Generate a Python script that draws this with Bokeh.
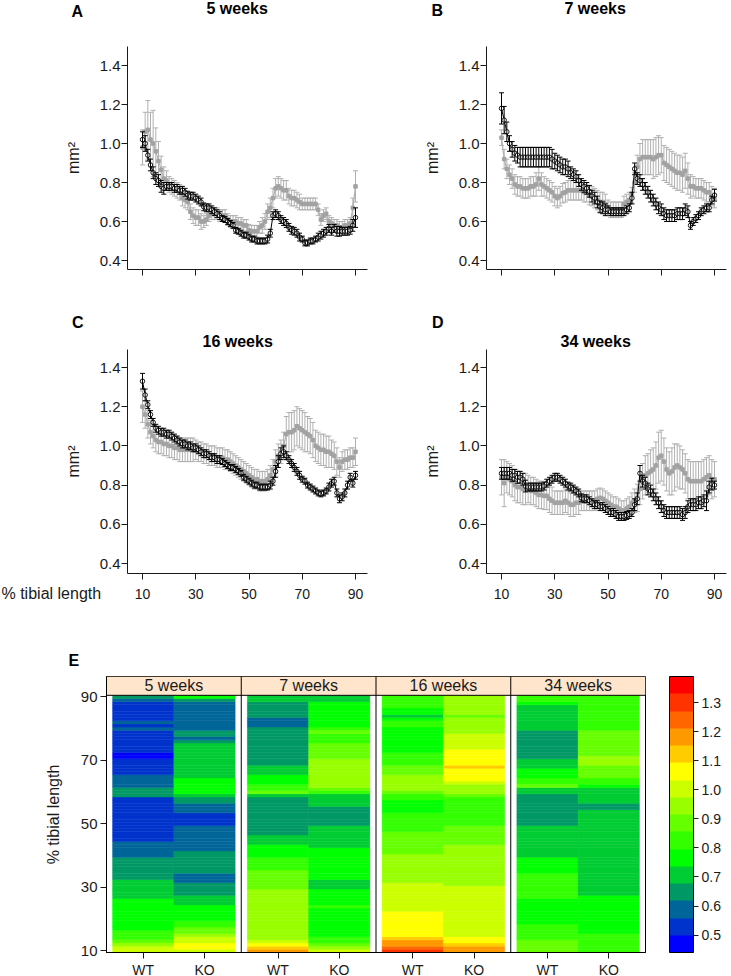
from bokeh.plotting import figure
from bokeh.layouts import column, row
from bokeh.models import (ColumnDataSource, Whisker, TeeHead, FixedTicker, Title,
                          Range1d, LinearColorMapper, ColorBar, Span, PrintfTickFormatter)
from bokeh.core.properties import value
from bokeh.embed import file_html
from bokeh.resources import INLINE

# ---------------- data ----------------
pct = list(range(10, 91))
ages = ["5 weeks", "7 weeks", "16 weeks", "34 weeks"]
panel_letters = ["A", "B", "C", "D"]
x_ticks = [10, 30, 50, 70, 90]
y_ticks = [0.4, 0.6, 0.8, 1.0, 1.2, 1.4]
genotypes = ["WT", "KO"]
heat_y_ticks = [10, 30, 50, 70, 90]
cb_ticks = [0.5, 0.6, 0.7, 0.8, 0.9, 1.0, 1.1, 1.2, 1.3]
cb_low, cb_high = 0.44, 1.39
palette16 = ["#0000FF", "#0033CC", "#006699", "#009966", "#00CC33", "#00FF00",
             "#33FF00", "#66FF00", "#99FF00", "#CCFF00", "#FFFF00", "#FFCC00",
             "#FF9900", "#FF6600", "#FF3300", "#FF0000"]

wt_5wk = [1.02, 1.00, 0.94, 0.89, 0.85, 0.82, 0.81, 0.78, 0.77, 0.78,
          0.78, 0.78, 0.77, 0.77, 0.76, 0.76, 0.75, 0.735, 0.73, 0.73,
          0.72, 0.71, 0.70, 0.675, 0.67, 0.67, 0.66, 0.65, 0.64, 0.63,
          0.615, 0.61, 0.60, 0.59, 0.58, 0.555, 0.55, 0.54, 0.53, 0.53,
          0.52, 0.51, 0.51, 0.50, 0.50, 0.50, 0.50, 0.51, 0.54, 0.63,
          0.64, 0.63, 0.61, 0.60, 0.59, 0.57, 0.555, 0.55, 0.54, 0.52,
          0.51, 0.49, 0.49, 0.50, 0.50, 0.51, 0.52, 0.53, 0.54, 0.55,
          0.565, 0.55, 0.565, 0.55, 0.55, 0.55, 0.55, 0.55, 0.555, 0.58,
          0.62]
wt_5wk_se = [0.04, 0.04, 0.03, 0.03, 0.03, 0.03, 0.03, 0.03, 0.03, 0.02,
             0.02, 0.02, 0.02, 0.02, 0.02, 0.02, 0.02, 0.02, 0.02, 0.02,
             0.02, 0.02, 0.02, 0.02, 0.02, 0.02, 0.02, 0.02, 0.02, 0.02,
             0.015, 0.015, 0.015, 0.015, 0.015, 0.015, 0.015, 0.015, 0.015, 0.015,
             0.015, 0.015, 0.015, 0.015, 0.015, 0.015, 0.015, 0.02, 0.02, 0.02,
             0.02, 0.02, 0.02, 0.02, 0.02, 0.02, 0.02, 0.02, 0.02, 0.02,
             0.015, 0.015, 0.015, 0.015, 0.015, 0.015, 0.02, 0.02, 0.02, 0.02,
             0.02, 0.02, 0.02, 0.025, 0.025, 0.02, 0.02, 0.02, 0.02, 0.03,
             0.05]
ko_5wk = [0.98, 1.06, 1.07, 1.02, 1.00, 0.96, 0.91, 0.865, 0.82, 0.81,
          0.79, 0.78, 0.77, 0.76, 0.75, 0.72, 0.71, 0.70, 0.65, 0.63,
          0.62, 0.62, 0.60, 0.60, 0.61, 0.63, 0.64, 0.64, 0.64, 0.63,
          0.63, 0.63, 0.61, 0.60, 0.60, 0.60, 0.59, 0.59, 0.58, 0.58,
          0.555, 0.55, 0.55, 0.55, 0.57, 0.58, 0.60, 0.65, 0.67, 0.72,
          0.77, 0.78, 0.77, 0.76, 0.76, 0.73, 0.72, 0.72, 0.71, 0.70,
          0.69, 0.69, 0.69, 0.69, 0.69, 0.69, 0.66, 0.61, 0.63, 0.64,
          0.60, 0.59, 0.58, 0.58, 0.57, 0.57, 0.58, 0.58, 0.59, 0.67,
          0.78]
ko_5wk_se = [0.09, 0.10, 0.15, 0.14, 0.17, 0.12, 0.10, 0.07, 0.06, 0.05,
             0.04, 0.04, 0.04, 0.04, 0.04, 0.04, 0.04, 0.04, 0.04, 0.04,
             0.04, 0.04, 0.04, 0.03, 0.03, 0.03, 0.03, 0.03, 0.03, 0.03,
             0.03, 0.03, 0.03, 0.03, 0.03, 0.03, 0.03, 0.03, 0.03, 0.03,
             0.03, 0.03, 0.03, 0.03, 0.03, 0.04, 0.04, 0.04, 0.05, 0.05,
             0.05, 0.05, 0.05, 0.05, 0.05, 0.04, 0.04, 0.04, 0.04, 0.04,
             0.03, 0.03, 0.03, 0.03, 0.03, 0.03, 0.03, 0.03, 0.03, 0.03,
             0.03, 0.03, 0.03, 0.03, 0.03, 0.03, 0.03, 0.03, 0.03, 0.05,
             0.08]

wt_7wk = [1.18, 1.12, 1.06, 1.00, 0.97, 0.95, 0.94, 0.93, 0.93, 0.93,
          0.93, 0.93, 0.93, 0.93, 0.93, 0.93, 0.93, 0.93, 0.93, 0.92,
          0.91, 0.90, 0.89, 0.88, 0.88, 0.87, 0.85, 0.84, 0.83, 0.81,
          0.79, 0.78, 0.77, 0.755, 0.73, 0.72, 0.70, 0.675, 0.67, 0.66,
          0.66, 0.65, 0.65, 0.65, 0.65, 0.65, 0.65, 0.66, 0.67, 0.72,
          0.87, 0.82, 0.81, 0.79, 0.77, 0.75, 0.73, 0.71, 0.69, 0.67,
          0.66, 0.64, 0.63, 0.63, 0.63, 0.63, 0.64, 0.64, 0.64, 0.66,
          0.65, 0.58, 0.60, 0.615, 0.63, 0.65, 0.66, 0.67, 0.67, 0.71,
          0.735]
wt_7wk_se = [0.08, 0.07, 0.05, 0.04, 0.04, 0.04, 0.04, 0.05, 0.05, 0.05,
             0.05, 0.05, 0.05, 0.05, 0.05, 0.05, 0.05, 0.05, 0.05, 0.05,
             0.04, 0.04, 0.04, 0.04, 0.04, 0.04, 0.03, 0.03, 0.03, 0.03,
             0.03, 0.03, 0.03, 0.03, 0.03, 0.03, 0.03, 0.03, 0.03, 0.03,
             0.02, 0.02, 0.02, 0.02, 0.02, 0.02, 0.02, 0.02, 0.02, 0.03,
             0.03, 0.03, 0.03, 0.03, 0.03, 0.03, 0.03, 0.03, 0.03, 0.03,
             0.03, 0.03, 0.03, 0.03, 0.03, 0.03, 0.03, 0.03, 0.03, 0.03,
             0.03, 0.02, 0.02, 0.02, 0.02, 0.02, 0.02, 0.02, 0.02, 0.02,
             0.03]
ko_7wk = [1.03, 0.92, 0.87, 0.84, 0.82, 0.79, 0.78, 0.78, 0.77, 0.77,
          0.77, 0.78, 0.78, 0.79, 0.82, 0.79, 0.78, 0.77, 0.76, 0.75,
          0.73, 0.72, 0.73, 0.745, 0.75, 0.76, 0.76, 0.76, 0.76, 0.76,
          0.76, 0.75, 0.75, 0.735, 0.73, 0.72, 0.71, 0.70, 0.70, 0.69,
          0.67, 0.66, 0.66, 0.66, 0.66, 0.66, 0.69, 0.70, 0.71, 0.735,
          0.80, 0.88, 0.92, 0.93, 0.93, 0.93, 0.93, 0.92, 0.93, 0.94,
          0.94, 0.90, 0.89, 0.88, 0.87, 0.86, 0.85, 0.85, 0.84, 0.86,
          0.82, 0.78, 0.78, 0.77, 0.77, 0.77, 0.76, 0.75, 0.75, 0.73,
          0.72]
ko_7wk_se = [0.04, 0.05, 0.05, 0.05, 0.05, 0.05, 0.05, 0.05, 0.05, 0.05,
             0.05, 0.05, 0.05, 0.06, 0.06, 0.06, 0.05, 0.05, 0.05, 0.05,
             0.05, 0.05, 0.05, 0.05, 0.05, 0.05, 0.05, 0.05, 0.05, 0.05,
             0.05, 0.05, 0.05, 0.05, 0.05, 0.05, 0.05, 0.05, 0.05, 0.05,
             0.04, 0.04, 0.04, 0.04, 0.04, 0.04, 0.04, 0.04, 0.04, 0.04,
             0.05, 0.06, 0.08, 0.09, 0.09, 0.09, 0.09, 0.10, 0.10, 0.10,
             0.09, 0.09, 0.09, 0.09, 0.09, 0.09, 0.09, 0.09, 0.09, 0.09,
             0.08, 0.06, 0.05, 0.05, 0.05, 0.05, 0.05, 0.05, 0.05, 0.05,
             0.05]

wt_16wk = [1.33, 1.26, 1.21, 1.16, 1.12, 1.09, 1.08, 1.07, 1.07, 1.06,
           1.06, 1.05, 1.04, 1.03, 1.02, 1.01, 1.01, 1.00, 1.00, 0.99,
           0.99, 0.98, 0.97, 0.96, 0.96, 0.95, 0.94, 0.94, 0.93, 0.93,
           0.92, 0.91, 0.90, 0.89, 0.89, 0.88, 0.87, 0.86, 0.84, 0.83,
           0.82, 0.81, 0.80, 0.80, 0.79, 0.79, 0.79, 0.79, 0.80, 0.82,
           0.87, 0.92, 0.96, 0.97, 0.95, 0.93, 0.91, 0.89, 0.87, 0.85,
           0.83, 0.82, 0.80, 0.79, 0.78, 0.77, 0.76, 0.755, 0.76, 0.77,
           0.79, 0.81, 0.82, 0.76, 0.73, 0.74, 0.76, 0.80, 0.84, 0.81,
           0.85]
wt_16wk_se = [0.04, 0.03, 0.02, 0.02, 0.02, 0.02, 0.02, 0.02, 0.02, 0.02,
              0.02, 0.02, 0.02, 0.02, 0.02, 0.02, 0.02, 0.02, 0.02, 0.02,
              0.02, 0.02, 0.02, 0.02, 0.02, 0.02, 0.02, 0.02, 0.02, 0.02,
              0.015, 0.015, 0.015, 0.015, 0.015, 0.015, 0.015, 0.015, 0.015, 0.015,
              0.015, 0.015, 0.015, 0.015, 0.015, 0.015, 0.015, 0.015, 0.02, 0.02,
              0.03, 0.03, 0.03, 0.03, 0.02, 0.02, 0.02, 0.02, 0.02, 0.02,
              0.015, 0.015, 0.015, 0.015, 0.015, 0.015, 0.015, 0.015, 0.015, 0.015,
              0.02, 0.02, 0.02, 0.02, 0.02, 0.02, 0.02, 0.02, 0.02, 0.02,
              0.02]
ko_16wk = [1.20, 1.16, 1.11, 1.07, 1.05, 1.03, 1.02, 1.02, 1.01, 1.01,
           1.00, 1.00, 0.99, 0.99, 0.98, 0.98, 0.98, 0.98, 0.98, 0.98,
           0.98, 0.97, 0.97, 0.96, 0.96, 0.95, 0.95, 0.95, 0.94, 0.94,
           0.94, 0.93, 0.93, 0.92, 0.91, 0.90, 0.89, 0.88, 0.87, 0.86,
           0.85, 0.84, 0.83, 0.83, 0.82, 0.82, 0.82, 0.83, 0.85, 0.88,
           0.92, 0.95, 0.97, 1.00, 1.06, 1.07, 1.07, 1.08, 1.10, 1.09,
           1.08, 1.07, 1.06, 1.05, 1.03, 1.00, 0.99, 0.98, 0.98, 0.97,
           0.97, 0.96, 0.95, 0.92, 0.89, 0.92, 0.93, 0.93, 0.94, 0.94,
           0.97]
ko_16wk_se = [0.08, 0.07, 0.07, 0.06, 0.06, 0.06, 0.06, 0.06, 0.06, 0.06,
              0.06, 0.06, 0.06, 0.06, 0.06, 0.06, 0.06, 0.06, 0.06, 0.06,
              0.05, 0.05, 0.05, 0.05, 0.05, 0.05, 0.05, 0.05, 0.05, 0.05,
              0.05, 0.05, 0.05, 0.05, 0.05, 0.05, 0.05, 0.05, 0.05, 0.05,
              0.05, 0.05, 0.05, 0.05, 0.05, 0.05, 0.05, 0.05, 0.05, 0.05,
              0.06, 0.06, 0.06, 0.07, 0.09, 0.10, 0.10, 0.10, 0.10, 0.10,
              0.10, 0.10, 0.09, 0.09, 0.09, 0.08, 0.08, 0.08, 0.08, 0.08,
              0.08, 0.07, 0.07, 0.07, 0.05, 0.05, 0.05, 0.05, 0.05, 0.05,
              0.07]

wt_34wk = [0.86, 0.86, 0.86, 0.86, 0.85, 0.85, 0.84, 0.84, 0.83, 0.795,
           0.79, 0.79, 0.79, 0.79, 0.79, 0.79, 0.795, 0.81, 0.82, 0.83,
           0.84, 0.84, 0.83, 0.82, 0.81, 0.795, 0.79, 0.78, 0.77, 0.76,
           0.735, 0.73, 0.73, 0.72, 0.71, 0.70, 0.70, 0.69, 0.69, 0.68,
           0.67, 0.66, 0.66, 0.65, 0.64, 0.64, 0.64, 0.645, 0.65, 0.66,
           0.70, 0.73, 0.86, 0.82, 0.81, 0.78, 0.77, 0.75, 0.73, 0.71,
           0.69, 0.67, 0.66, 0.66, 0.66, 0.66, 0.66, 0.66, 0.65, 0.66,
           0.69, 0.70, 0.70, 0.70, 0.71, 0.71, 0.72, 0.72, 0.79, 0.805,
           0.80]
wt_34wk_se = [0.03, 0.03, 0.03, 0.03, 0.03, 0.03, 0.03, 0.03, 0.03, 0.03,
              0.02, 0.02, 0.02, 0.02, 0.02, 0.02, 0.02, 0.02, 0.02, 0.02,
              0.02, 0.02, 0.02, 0.02, 0.02, 0.02, 0.02, 0.02, 0.02, 0.02,
              0.02, 0.02, 0.02, 0.02, 0.02, 0.02, 0.02, 0.02, 0.02, 0.02,
              0.02, 0.02, 0.02, 0.02, 0.02, 0.02, 0.02, 0.02, 0.02, 0.02,
              0.03, 0.03, 0.04, 0.03, 0.03, 0.03, 0.03, 0.03, 0.03, 0.03,
              0.03, 0.03, 0.03, 0.03, 0.03, 0.03, 0.03, 0.03, 0.03, 0.03,
              0.03, 0.03, 0.03, 0.03, 0.03, 0.03, 0.03, 0.05, 0.03, 0.03,
              0.02]
ko_34wk = [0.84, 0.81, 0.84, 0.83, 0.82, 0.80, 0.79, 0.79, 0.78, 0.78,
           0.78, 0.77, 0.77, 0.76, 0.75, 0.75, 0.745, 0.745, 0.73, 0.72,
           0.71, 0.71, 0.71, 0.71, 0.72, 0.71, 0.70, 0.70, 0.71, 0.71,
           0.72, 0.72, 0.72, 0.72, 0.72, 0.72, 0.73, 0.735, 0.73, 0.72,
           0.71, 0.70, 0.69, 0.69, 0.68, 0.67, 0.67, 0.68, 0.69, 0.71,
           0.72, 0.735, 0.78, 0.82, 0.85, 0.86, 0.87, 0.88, 0.90, 0.94,
           0.95, 0.92, 0.88, 0.86, 0.87, 0.89, 0.90, 0.89, 0.88, 0.86,
           0.83, 0.82, 0.82, 0.82, 0.82, 0.82, 0.83, 0.84, 0.85, 0.83,
           0.83]
ko_34wk_se = [0.09, 0.12, 0.08, 0.08, 0.08, 0.08, 0.08, 0.08, 0.08, 0.08,
              0.07, 0.07, 0.07, 0.07, 0.07, 0.07, 0.07, 0.07, 0.07, 0.07,
              0.06, 0.06, 0.06, 0.06, 0.06, 0.06, 0.06, 0.06, 0.06, 0.06,
              0.05, 0.05, 0.05, 0.05, 0.05, 0.05, 0.05, 0.05, 0.05, 0.05,
              0.05, 0.05, 0.05, 0.05, 0.05, 0.05, 0.05, 0.05, 0.05, 0.05,
              0.06, 0.07, 0.08, 0.09, 0.10, 0.10, 0.11, 0.11, 0.12, 0.13,
              0.13, 0.12, 0.11, 0.11, 0.12, 0.12, 0.11, 0.11, 0.10, 0.10,
              0.10, 0.10, 0.10, 0.10, 0.10, 0.10, 0.10, 0.10, 0.10, 0.10,
              0.09]

wt_all = [wt_5wk, wt_7wk, wt_16wk, wt_34wk]
wt_se_all = [wt_5wk_se, wt_7wk_se, wt_16wk_se, wt_34wk_se]
ko_all = [ko_5wk, ko_7wk, ko_16wk, ko_34wk]
ko_se_all = [ko_5wk_se, ko_7wk_se, ko_16wk_se, ko_34wk_se]
for arr in wt_all + wt_se_all + ko_all + ko_se_all:
    assert len(arr) == len(pct), len(arr)

# ---------------- style ----------------
FONT = "Liberation Sans"
TXT = "#1a1a1a"
GRAY = "#B0B0B0"
GRAY_PT = "#A2A2A2"
PXX = 2.6625   # px per % tibial length


def free_text(p, text, vx, vy, bold=True, size="16px"):
    """Text outside the frame: title of an invisible 1-px colour bar (not clipped)."""
    cb = ColorBar(color_mapper=LinearColorMapper(palette=["#FFFFFF"], low=0, high=1),
                  location=(vx, vy), orientation="horizontal", width=1, height=1,
                  padding=0, margin=0, scale_alpha=0,
                  bar_line_color=None, border_line_color=None, background_fill_color=None,
                  ticker=FixedTicker(ticks=[0.5]), major_label_overrides={0.5: ""},
                  major_label_text_font_size="1px", label_standoff=0,
                  major_tick_out=0, major_tick_in=0,
                  major_tick_line_color=None, minor_tick_line_color=None,
                  title=text, title_standoff=0, title_text_font=FONT,
                  title_text_font_size=size, title_text_align="left",
                  title_text_font_style="bold" if bold else "normal",
                  title_text_color="black" if bold else TXT)
    p.add_layout(cb)


def style_axes(p, show_x_labels):
    for ax in (p.xaxis[0], p.yaxis[0]):
        ax.axis_line_color = TXT
        ax.major_tick_line_color = TXT
        ax.major_tick_out = 6
        ax.major_tick_in = 0
        ax.minor_tick_line_color = None
        ax.major_label_text_font = FONT
        ax.major_label_text_color = TXT
        ax.axis_label_text_font = FONT
        ax.axis_label_text_font_size = "16px"
        ax.axis_label_text_font_style = "normal"
        ax.axis_label_text_color = TXT
    p.xaxis.major_label_text_font_size = "14px"
    p.yaxis.major_label_text_font_size = "15px"
    p.xaxis.ticker = FixedTicker(ticks=x_ticks)
    p.yaxis.ticker = FixedTicker(ticks=y_ticks)
    p.yaxis.formatter = PrintfTickFormatter(format="%.1f")
    p.yaxis.major_label_standoff = 1
    p.yaxis.axis_label = "mm\u00b2"
    p.yaxis.axis_label_standoff = 15
    p.xaxis.major_label_standoff = 9
    if not show_x_labels:
        p.xaxis.major_label_text_color = None


def line_panel(i, bl, fw, br, bt, fh, bb, ytop, pxy, show_x):
    x0 = 10 - 15 / PXX
    x1 = x0 + fw / PXX
    y1 = ytop
    y0 = ytop - fh / pxy
    p = figure(frame_width=fw, frame_height=fh,
               min_border_left=bl, min_border_right=br,
               min_border_top=bt, min_border_bottom=bb,
               x_range=Range1d(x0, x1), y_range=Range1d(y0, y1),
               output_backend="svg", toolbar_location=None)
    p.outline_line_color = None
    p.xgrid.visible = False
    p.ygrid.visible = False
    style_axes(p, show_x)

    wt, wse = wt_all[i], wt_se_all[i]
    ko, kse = ko_all[i], ko_se_all[i]
    src = ColumnDataSource(dict(
        x=pct, wt=wt, ko=ko,
        wt_lo=[v - e for v, e in zip(wt, wse)], wt_hi=[v + e for v, e in zip(wt, wse)],
        ko_lo=[v - e for v, e in zip(ko, kse)], ko_hi=[v + e for v, e in zip(ko, kse)],
    ))
    # KO (grey)
    p.add_layout(Whisker(base="x", upper="ko_hi", lower="ko_lo", source=src,
                         line_color=GRAY, line_width=1, level="underlay",
                         upper_head=TeeHead(size=5, line_color=GRAY, line_width=1),
                         lower_head=TeeHead(size=5, line_color=GRAY, line_width=1)))
    p.line("x", "ko", source=src, line_color=GRAY, line_width=1.2)
    p.scatter("x", "ko", source=src, marker="square", size=3.5,
              fill_color=GRAY_PT, line_color=GRAY_PT)
    # WT (black)
    p.add_layout(Whisker(base="x", upper="wt_hi", lower="wt_lo", source=src,
                         line_color="black", line_width=1, level="glyph",
                         upper_head=TeeHead(size=5, line_color="black", line_width=1),
                         lower_head=TeeHead(size=5, line_color="black", line_width=1)))
    p.line("x", "wt", source=src, line_color="black", line_width=1)
    p.scatter("x", "wt", source=src, marker="circle", size=4.5,
              fill_color="white", line_color="black", line_width=0.9)
    return p


def bold_title(text, offset, standoff=0):
    return Title(text=text, align="left", offset=offset, standoff=standoff,
                 text_font=FONT, text_font_size="16px", text_font_style="bold",
                 text_color="black")


# geometry in page pixels: frames of A/B at y 46..269, C/D at 349..573
pA = line_panel(0, 127, 240, 3, 46, 223, 36, 1.4 + 19 / 195, 195, False)
pB = line_panel(1, 116, 240, 5, 46, 223, 36, 1.4 + 19 / 195, 195, False)
pC = line_panel(2, 127, 240, 3, 44, 224, 42, 1.4 + 18 / 196, 196, True)
pD = line_panel(3, 116, 240, 5, 44, 224, 42, 1.4 + 18 / 196, 196, True)

# top row: letter and title share one line near the top edge
free_text(pA, panel_letters[0], -56, 249)
free_text(pA, ages[0], 79, 252)
free_text(pB, panel_letters[1], -55, 250)
free_text(pB, ages[1], 78, 252)
# second row: letter (outer title) above the week title (inner title)
pC.title = bold_title(panel_letters[2], -55.5)
pC.add_layout(bold_title(ages[2], 75), "above")
pD.title = bold_title(panel_letters[3], -54.5)
pD.add_layout(bold_title(ages[3], 74), "above")
free_text(pC, "% tibial length", -126, -29, bold=False)

# ---------------- heatmap (E) ----------------
FACET_W = 2.2
offsets = [round(i * FACET_W, 6) for i in range(len(ages))]
HFH = 276
PXY_H = 3.175
hy0 = 9.5
hy1 = hy0 + HFH / PXY_H
strip_bottom = 90.5

mapper = LinearColorMapper(palette=palette16, low=cb_low, high=cb_high)

hx, hyv, hv = [], [], []
for i in range(len(ages)):
    for j, pv in enumerate(pct):
        for g, series in enumerate((wt_all[i], ko_all[i])):
            hx.append(offsets[i] + 1 + g)
            hyv.append(pv)
            hv.append(series[j])
hsrc = ColumnDataSource(dict(x=hx, y=hyv, v=hv))

pE = figure(frame_width=539, frame_height=HFH,
            min_border_left=106, min_border_right=86,
            min_border_top=61, min_border_bottom=24,
            x_range=Range1d(0.4, round(0.4 + len(ages) * FACET_W, 6)),
            y_range=Range1d(hy0, hy1),
            output_backend="svg", toolbar_location=None)
pE.title = bold_title("E", -38, standoff=16)
pE.xgrid.visible = False
pE.ygrid.visible = False
pE.outline_line_color = "black"
pE.outline_line_width = 1

pE.rect("x", "y", width=1, height=1, source=hsrc,
        fill_color={"field": "v", "transform": mapper},
        line_color={"field": "v", "transform": mapper}, line_width=0.5)

# strips
pE.quad(left=[o + 0.4 for o in offsets], right=[o + FACET_W + 0.4 for o in offsets],
        bottom=strip_bottom, top=hy1, fill_color="#FFE5CC", line_color=None)
pE.text(x=[o + 1.5 for o in offsets], y=[(strip_bottom + hy1) / 2] * len(offsets),
        text=ages, text_font=value(FONT), text_font_size="16px", text_color=TXT,
        text_align="center", text_baseline="middle")
pE.add_layout(Span(location=strip_bottom, dimension="width", line_color="black", line_width=1))
for o in offsets[1:]:
    pE.add_layout(Span(location=o + 0.4, dimension="height", line_color="black", line_width=1))

xt = []
xo = {}
for o in offsets:
    for g, name in enumerate(genotypes):
        t = round(o + 1 + g, 6)
        xt.append(t)
        xo[t] = name
for ax in (pE.xaxis[0], pE.yaxis[0]):
    ax.axis_line_color = "black"
    ax.major_tick_line_color = TXT
    ax.major_tick_out = 6
    ax.major_tick_in = 0
    ax.minor_tick_line_color = None
    ax.major_label_text_font = FONT
    ax.major_label_text_color = TXT
    ax.axis_label_text_font = FONT
    ax.axis_label_text_font_size = "16px"
    ax.axis_label_text_font_style = "normal"
    ax.axis_label_text_color = TXT
pE.xaxis.ticker = FixedTicker(ticks=xt)
pE.xaxis.major_label_overrides = xo
pE.xaxis.major_label_text_font_size = "14px"
pE.xaxis.major_label_standoff = 3
pE.yaxis.ticker = FixedTicker(ticks=heat_y_ticks)
pE.yaxis.major_label_text_font_size = "15px"
pE.yaxis.major_label_standoff = 3
pE.yaxis.axis_label = "% tibial length"
pE.yaxis.axis_label_standoff = 16

cbar = ColorBar(color_mapper=mapper, location=(563, 0), width=24, height=HFH,
                padding=0, margin=0,
                ticker=FixedTicker(ticks=cb_ticks),
                formatter=PrintfTickFormatter(format="%.1f"),
                major_label_text_font=FONT, major_label_text_font_size="14px",
                major_label_text_color=TXT, label_standoff=3,
                major_tick_out=5, major_tick_in=0, major_tick_line_color=TXT,
                minor_tick_line_color=None,
                bar_line_color="black", border_line_color=None,
                background_fill_color=None)
pE.add_layout(cbar)

layout = column(row(pA, pB), row(pC, pD), pE)
open("out.html", "w").write(file_html(layout, INLINE))
